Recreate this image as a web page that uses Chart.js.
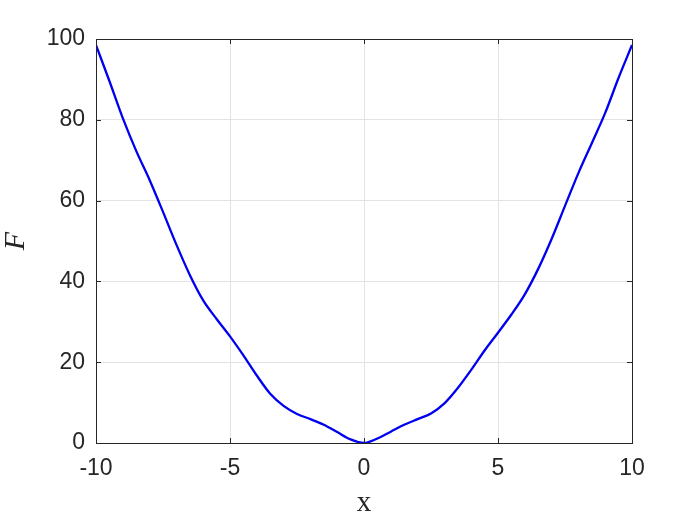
<!DOCTYPE html>
<html>
<head>
<meta charset="utf-8">
<script src="https://cdn.jsdelivr.net/npm/chart.js@4"></script>
<style>
  html, body { margin: 0; padding: 0; background: #fff; }
</style>
</head>
<body>
<canvas id="chart" width="700" height="525"></canvas>
<script>
// values
const xValues = [-10, -9.5, -9, -8.5, -8, -7.5, -7, -6.5, -6, -5.5, -5, -4.5, -4, -3.5, -3, -2.5, -2, -1.5, -1, -0.5, 0,
  0.5, 1, 1.5, 2, 2.5, 3, 3.5, 4, 4.5, 5, 5.5, 6, 6.5, 7, 7.5, 8, 8.5, 9, 9.5, 10];
const fValues = [98.5, 89.6, 80.4, 72.3, 65.1, 57.2, 49.1, 41.6, 35.3, 30.7, 26.4, 21.7, 16.7, 12.2, 9.2, 7.2, 5.9, 4.5, 2.7, 0.9, 0,
  1.1, 2.8, 4.5, 5.9, 7.3, 9.8, 13.6, 18.1, 22.9, 27.3, 31.8, 36.8, 43.1, 50.5, 58.7, 66.8, 74.2, 81.7, 90.4, 98.5];
const xTicks = [-10, -5, 0, 5, 10];
const yTicks = [0, 20, 40, 60, 80, 100];

const axisColor = "#262626";
const gridColor = "#e3e3e3";

// matlab style box with inward ticks
const boxPlugin = {
  id: "box",
  afterDraw(chart) {
    const { ctx, chartArea: a, scales } = chart;
    ctx.save();
    ctx.strokeStyle = axisColor;
    ctx.lineWidth = 1;
    ctx.beginPath();
    xTicks.forEach((v) => {
      const px = Math.round(scales.x.getPixelForValue(v)) + 0.5;
      ctx.moveTo(px, a.bottom);
      ctx.lineTo(px, a.bottom - 5);
      ctx.moveTo(px, a.top);
      ctx.lineTo(px, a.top + 5);
    });
    yTicks.forEach((v) => {
      const py = Math.round(scales.y.getPixelForValue(v)) + 0.5;
      ctx.moveTo(a.left, py);
      ctx.lineTo(a.left + 5, py);
      ctx.moveTo(a.right, py);
      ctx.lineTo(a.right - 5, py);
    });
    ctx.stroke();
    ctx.strokeRect(a.left + 0.5, a.top + 0.5, a.right - a.left, a.bottom - a.top);
    ctx.restore();
  },
};

const ctx = document.getElementById("chart").getContext("2d");
window._graph = new Chart(ctx, {
  type: "line",
  data: {
    datasets: [
      {
        data: xValues.map((x, i) => ({ x: x, y: fValues[i] })),
        borderColor: "#0000f0",
        borderWidth: 2.3,
        pointRadius: 0,
        cubicInterpolationMode: "monotone",
        fill: false,
      },
    ],
  },
  options: {
    responsive: false,
    animation: false,
    layout: { padding: { top: 39, right: 68, left: 0, bottom: 0 } },
    plugins: {
      legend: { display: false },
      tooltip: { enabled: false },
    },
    scales: {
      x: {
        type: "linear",
        min: -10,
        max: 10,
        afterBuildTicks: (scale) => {
          scale.ticks = xTicks.map((v) => ({ value: v }));
        },
        afterFit: (scale) => {
          scale.height = 82;
        },
        grid: { color: gridColor, drawTicks: false },
        border: { color: axisColor },
        ticks: {
          color: axisColor,
          padding: 12,
          maxRotation: 0,
          font: { family: "'Liberation Sans', Arial, sans-serif", size: 23 },
        },
        title: {
          display: true,
          text: "x",
          color: axisColor,
          padding: { top: 0, bottom: 4 },
          font: { family: "'Liberation Serif', 'Times New Roman', serif", size: 29, lineHeight: 1.2 },
        },
      },
      y: {
        min: 0,
        max: 100,
        afterBuildTicks: (scale) => {
          scale.ticks = yTicks.map((v) => ({ value: v }));
        },
        afterFit: (scale) => {
          scale.width = 96;
        },
        grid: { color: gridColor, drawTicks: false },
        border: { color: axisColor },
        ticks: {
          color: axisColor,
          padding: 11,
          font: { family: "'Liberation Sans', Arial, sans-serif", size: 23 },
        },
        title: {
          display: true,
          text: "F",
          color: axisColor,
          padding: 0,
          font: { family: "'Liberation Serif', 'Times New Roman', serif", size: 30, style: "italic", lineHeight: 1.1 },
        },
      },
    },
  },
  plugins: [boxPlugin],
});
</script>
</body>
</html>
